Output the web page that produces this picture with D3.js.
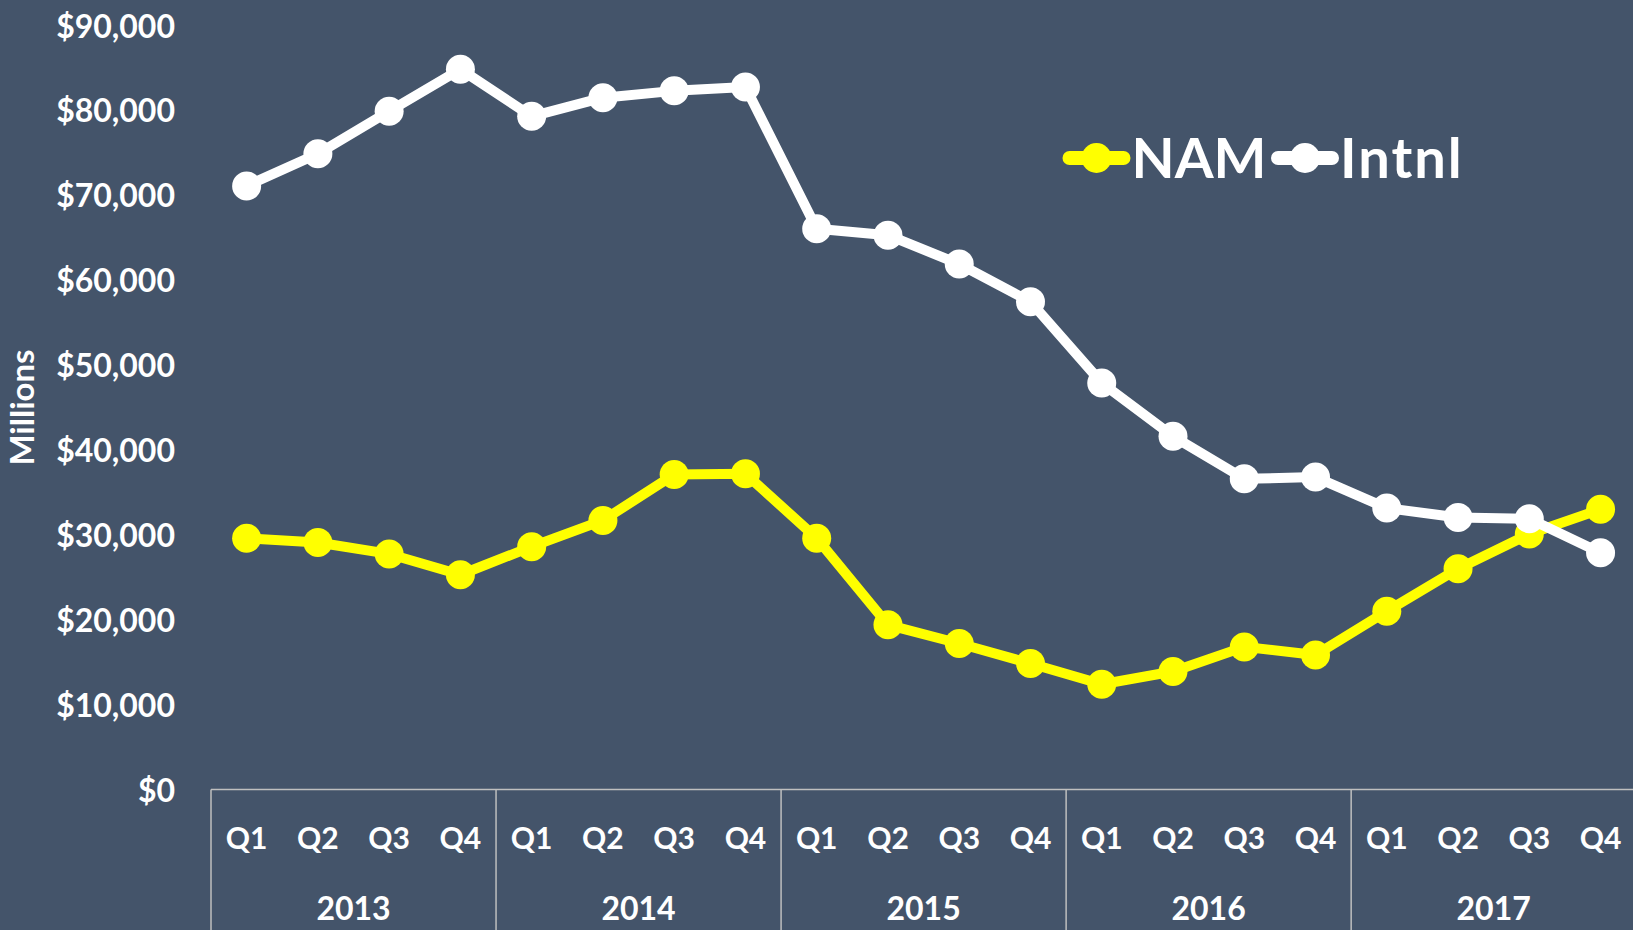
<!DOCTYPE html>
<html>
<head>
<meta charset="utf-8">
<script src="https://cdn.jsdelivr.net/npm/d3@7"></script>
<style>
  body { margin: 0; background: #44546A; }
  svg { display: block; }
  text { font-family: Lato, "Open Sans", sans-serif; font-weight: bold; fill: #fff; }
</style>
</head>
<body>
<div id="chart"></div>
<script>
// data
var years = ["2013", "2014", "2015", "2016", "2017"];
var quarters = ["Q1", "Q2", "Q3", "Q4"];
var nam = [29600, 29100, 27750, 25300, 28600, 31700, 37100, 37200, 29600, 19400,
           17200, 14850, 12400, 13900, 16800, 15850, 21000, 26000, 30100, 33000];
var intnl = [71100, 74900, 79900, 84850, 79300, 81500, 82300, 82750, 66060, 65300,
             61900, 57450, 47900, 41600, 36600, 36800, 33150, 32050, 31900, 27900];
var yTicks = [0, 10000, 20000, 30000, 40000, 50000, 60000, 70000, 80000, 90000];

var W = 1633, H = 930;
var svg = d3.select("#chart").append("svg").attr("width", W).attr("height", H);

var cats = d3.range(years.length * quarters.length);
var x = d3.scaleBand().domain(cats).range([211, 211 + 20 * 71.26]);
var y = d3.scaleLinear().domain([0, 90000]).range([789.5, 25.5]);
var cx = function(i) { return x(i) + x.bandwidth() / 2; };

// y axis
var yAxis = svg.append("g").attr("transform", "translate(211,0)")
  .call(d3.axisLeft(y).tickValues(yTicks).tickSize(0).tickPadding(36)
    .tickFormat(function(d) { return "$" + d3.format(",")(d); }));
yAxis.select(".domain").remove();
yAxis.selectAll("text").style("font-size", "32px").style("font-family", null).attr("fill", "#fff").attr("dy", "0.36em");

svg.append("text")
  .attr("transform", "translate(34,407.5) rotate(-90)")
  .attr("text-anchor", "middle").style("font-size", "33px")
  .text("Millions");

// category axis
var axisCol = "#BFBFBF";
svg.append("line").attr("x1", 211).attr("x2", W).attr("y1", 789.5).attr("y2", 789.5)
  .style("stroke", axisCol).style("stroke-width", 1.5);

svg.selectAll(".ysep").data(d3.range(years.length + 1)).enter().append("line")
  .attr("x1", function(d) { return x(0) + d * 4 * x.bandwidth(); })
  .attr("x2", function(d) { return x(0) + d * 4 * x.bandwidth(); })
  .attr("y1", 789.5).attr("y2", H)
  .style("stroke", axisCol).style("stroke-width", 1.5);

svg.selectAll(".qlab").data(cats).enter().append("text")
  .attr("x", cx).attr("y", 838).attr("dy", "0.36em")
  .attr("text-anchor", "middle").style("font-size", "30px")
  .text(function(d) { return quarters[d % 4]; });

svg.selectAll(".ylab").data(years).enter().append("text")
  .attr("x", function(d, i) { return x(0) + (i * 4 + 2) * x.bandwidth(); })
  .attr("y", 908).attr("dy", "0.36em")
  .attr("text-anchor", "middle").style("font-size", "32px")
  .text(String);

// series
var series = [
  {name: "NAM", values: nam, color: "#FFFF00"},
  {name: "Intnl", values: intnl, color: "#FFFFFF"}
];

var line = d3.line().x(function(d, i) { return cx(i); }).y(function(d) { return y(d); });

series.forEach(function(s) {
  svg.append("path").datum(s.values).attr("d", line)
    .style("fill", "none").style("stroke", s.color).style("stroke-width", 10)
    .style("stroke-linejoin", "round");
  svg.selectAll(null).data(s.values).enter().append("circle")
    .attr("cx", function(d, i) { return cx(i); }).attr("cy", function(d) { return y(d); })
    .attr("r", 14.5).style("fill", s.color);
});

// legend
var legX = [1096.5, 1305];
series.forEach(function(s, i) {
  var g = svg.append("g").attr("transform", "translate(" + legX[i] + ",158)");
  g.append("line").attr("x1", -27).attr("x2", 27)
    .style("stroke", s.color).style("stroke-width", 14).style("stroke-linecap", "round");
  g.append("circle").attr("r", 15).style("fill", s.color);
  g.append("text").attr("x", 35).attr("dy", "0.36em").style("font-size", "56px")
    .style("letter-spacing", i == 1 ? "2px" : "0px").text(s.name);
});
</script>
</body>
</html>
